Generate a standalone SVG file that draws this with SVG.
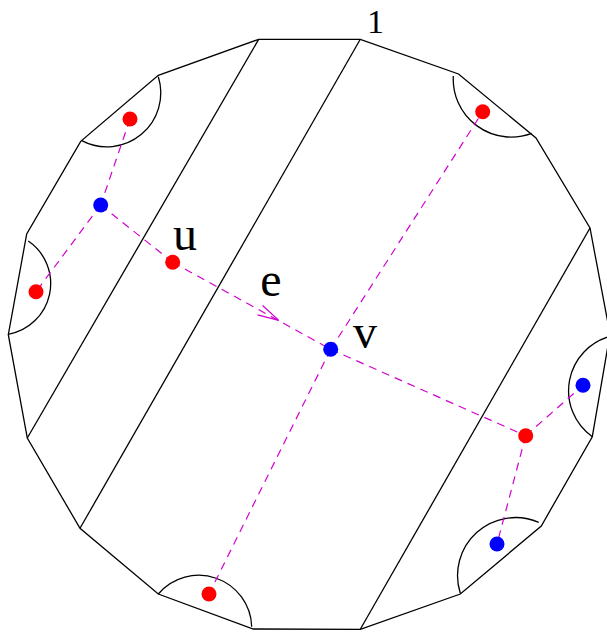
<svg xmlns="http://www.w3.org/2000/svg" width="607" height="634" viewBox="0 0 607 634">
<defs>
<style>
.ln{fill:none;stroke:#000;stroke-width:1.3;stroke-linejoin:miter}
.dash{fill:none;stroke:#d000d0;stroke-width:1.2;stroke-dasharray:8 6}
.arr{fill:none;stroke:#d000d0;stroke-width:1.2}
.r{fill:#ff0000}
.b{fill:#0000ff}
.lbl{font-family:"Liberation Serif","Times New Roman",serif;fill:#000;text-anchor:middle}
</style>
</defs>
<rect width="607" height="634" fill="#fff"/>
<g id="polygon">
<polygon class="ln" points="258.7,39.3 360.3,39.3 458.5,74 536,138 590,228 610,334 592.3,436.7 541.3,526 460.3,594 360.3,629.3 253.3,629 158.3,594 80,528.3 27.3,438 8.3,334.7 26.7,234 80.7,141.3 158.3,75.3"/>
<line class="ln" x1="258.7" y1="39.3" x2="27.3" y2="438"/>
<line class="ln" x1="360.3" y1="39.3" x2="80" y2="528.3"/>
<line class="ln" x1="590" y1="228" x2="360.3" y2="629.3"/>
</g>
<g id="arcs">
<path class="ln" d="M81.7,140.7 A54,54 0 0 0 158.3,76.7"/>
<path class="ln" d="M28.3,241 A51.6,51.6 0 0 1 8.3,334.3"/>
<path class="ln" d="M453.3,76 A58,58 0 0 0 531.7,133.3"/>
<path class="ln" d="M611.4,336 A56.4,56.4 0 0 0 592.3,436.7"/>
<path class="ln" d="M538.7,522.3 A58.1,58.1 0 0 0 460.3,593.3"/>
<path class="ln" d="M158.3,594 A53,53 0 0 1 251.7,626.7"/>
</g>
<text id="label-1" class="lbl" x="375.5" y="33" font-size="34">1</text>
<g id="connectors">
<line class="dash" x1="130" y1="119" x2="100.7" y2="205"/>
<line class="dash" x1="100.7" y1="205" x2="36" y2="291.7"/>
<line class="dash" x1="100.7" y1="205" x2="172.7" y2="262.3"/>
<line class="dash" x1="172.7" y1="262.3" x2="330.7" y2="349.3"/>
<polyline class="arr" points="257.5,314.8 278.8,320.4 262.6,305.5"/>
<text class="lbl" x="270.8" y="296" font-size="48">e</text>
<line class="dash" x1="330.7" y1="349.3" x2="482.7" y2="111.7"/>
<line class="dash" x1="330.7" y1="349.3" x2="209" y2="594"/>
<line class="dash" x1="330.7" y1="349.3" x2="525.7" y2="435.7"/>
<line class="dash" x1="525.7" y1="435.7" x2="583" y2="385.3"/>
<line class="dash" x1="525.7" y1="435.7" x2="497" y2="544"/>
</g>
<g id="node-r1"><circle class="r" cx="130" cy="119" r="7.5"/></g>
<g id="node-b1"><circle class="b" cx="100.7" cy="205" r="7.5"/></g>
<g id="node-r2"><circle class="r" cx="36" cy="291.7" r="7.5"/></g>
<g id="node-u"><circle class="r" cx="172.7" cy="262.3" r="7.5"/><text class="lbl" x="185" y="249.5" font-size="48">u</text></g>
<g id="node-v"><circle class="b" cx="330.7" cy="349.3" r="7.5"/><text class="lbl" x="365" y="348" font-size="48">v</text></g>
<g id="node-r3"><circle class="r" cx="482.7" cy="111.7" r="7.5"/></g>
<g id="node-r4"><circle class="r" cx="209" cy="594" r="7.5"/></g>
<g id="node-r5"><circle class="r" cx="525.7" cy="435.7" r="7.5"/></g>
<g id="node-b2"><circle class="b" cx="583" cy="385.3" r="7.5"/></g>
<g id="node-b3"><circle class="b" cx="497" cy="544" r="7.5"/></g>
</svg>
